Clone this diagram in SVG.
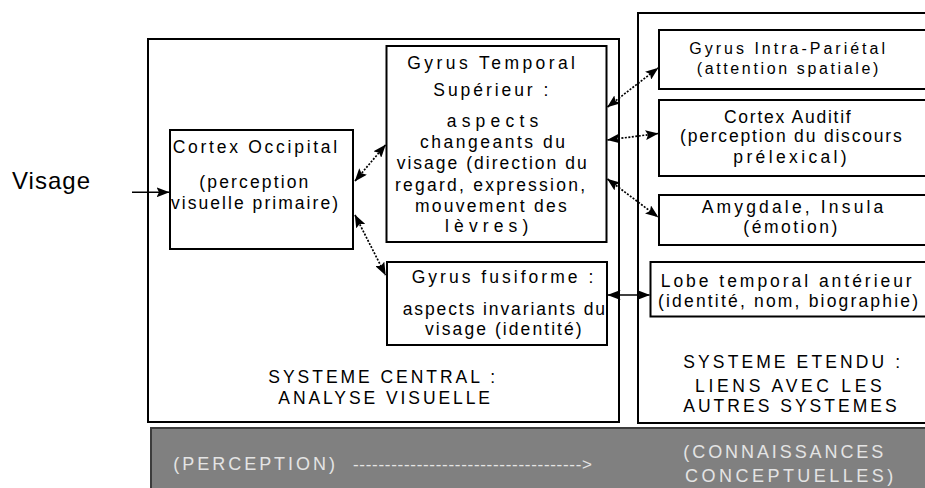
<svg xmlns="http://www.w3.org/2000/svg" width="925" height="488" viewBox="0 0 925 488">
<defs>
<marker id="ah" markerUnits="userSpaceOnUse" viewBox="0 0 13 10" markerWidth="13" markerHeight="10" refX="12.5" refY="5" orient="auto-start-reverse">
<path d="M0,0 L13,5 L0,10 L2.5,5 z" fill="#000"/>
</marker>
<style>
.box{fill:#fff;stroke:#000;stroke-width:2}
.t{font-family:"Liberation Sans",Arial,sans-serif;font-size:17.5px;fill:#000}
.sm{font-size:16px}
.v{font-family:"Liberation Sans",Arial,sans-serif;font-size:24px;fill:#000}
.b{font-family:"Liberation Sans",Arial,sans-serif;font-size:18px;fill:#e4e4e4}
.c{fill:none;stroke:#000;stroke-width:1.7;stroke-dasharray:2 1.5;marker-start:url(#ah);marker-end:url(#ah)}
.s{fill:none;stroke:#000;stroke-width:1.5;marker-end:url(#ah)}
.sd{fill:none;stroke:#000;stroke-width:1.7;marker-start:url(#ah);marker-end:url(#ah)}
</style>
</defs>
<rect width="925" height="488" fill="#fff"/>

<g id="systeme-central">
<rect class="box" x="148" y="39" width="471" height="383"/>
<text class="t" x="268.3" y="383.3" textLength="226.7" lengthAdjust="spacing">SYSTEME CENTRAL :</text>
<text class="t" x="278.3" y="404.3" textLength="211.7" lengthAdjust="spacing">ANALYSE VISUELLE</text>
</g>

<g id="systeme-etendu">
<rect class="box" x="638" y="13" width="300" height="410"/>
<text class="t" x="683.3" y="368.3" textLength="216.7" lengthAdjust="spacing">SYSTEME ETENDU :</text>
<text class="t" x="695" y="391.7" textLength="186.7" lengthAdjust="spacing">LIENS AVEC LES</text>
<text class="t" x="683.3" y="411.7" textLength="213.3" lengthAdjust="spacing">AUTRES SYSTEMES</text>
</g>

<g id="visage">
<text class="v" x="12" y="189" textLength="78" lengthAdjust="spacing">Visage</text>
</g>

<g id="cortex-occipital">
<rect class="box" x="170" y="130" width="183" height="119"/>
<text class="t" x="172.7" y="153.3" textLength="164.5" lengthAdjust="spacing">Cortex Occipital</text>
<text class="t" x="199.3" y="187.5" textLength="109" lengthAdjust="spacing">(perception</text>
<text class="t" x="171" y="209" textLength="167" lengthAdjust="spacing">visuelle primaire)</text>
</g>

<g id="gyrus-temporal">
<rect class="box" x="386.5" y="46" width="220" height="196"/>
<text class="t" x="407.3" y="68.7" textLength="167.7" lengthAdjust="spacing">Gyrus Temporal</text>
<text class="t" x="433.3" y="95.5" textLength="115" lengthAdjust="spacing">Supérieur :</text>
<text class="t" x="446.7" y="126.7" textLength="91.6" lengthAdjust="spacing">aspects</text>
<text class="t" x="420" y="147.7" textLength="145" lengthAdjust="spacing">changeants du</text>
<text class="t" x="396.7" y="169.3" textLength="190" lengthAdjust="spacing">visage (direction du</text>
<text class="t" x="395" y="191" textLength="190" lengthAdjust="spacing">regard, expression,</text>
<text class="t" x="415" y="212" textLength="151.7" lengthAdjust="spacing">mouvement des</text>
<text class="t" x="445" y="231.5" textLength="83.3" lengthAdjust="spacing">lèvres)</text>
</g>

<g id="gyrus-fusiforme">
<rect class="box" x="387" y="262" width="220" height="83"/>
<text class="t" x="411.7" y="283.3" textLength="181.6" lengthAdjust="spacing">Gyrus fusiforme :</text>
<text class="t" x="402.7" y="315" textLength="202.3" lengthAdjust="spacing">aspects invariants du</text>
<text class="t" x="425" y="335" textLength="156.7" lengthAdjust="spacing">visage (identité)</text>
</g>

<g id="gyrus-intra-parietal">
<rect class="box" x="659" y="30" width="280" height="59"/>
<text class="t sm" x="689.3" y="54" textLength="195.7" lengthAdjust="spacing">Gyrus Intra-Pariétal</text>
<text class="t sm" x="696.7" y="74" textLength="181.6" lengthAdjust="spacing">(attention spatiale)</text>
</g>

<g id="cortex-auditif">
<rect class="box" x="659" y="100" width="280" height="76"/>
<text class="t" x="724" y="123.3" textLength="126.7" lengthAdjust="spacing">Cortex Auditif</text>
<text class="t" x="680" y="141.7" textLength="221.7" lengthAdjust="spacing">(perception du discours</text>
<text class="t" x="733.3" y="163" textLength="113.4" lengthAdjust="spacing">prélexical)</text>
</g>

<g id="amygdale-insula">
<rect class="box" x="659" y="195" width="280" height="50"/>
<text class="t" x="701.7" y="212.5" textLength="181.6" lengthAdjust="spacing">Amygdale, Insula</text>
<text class="t" x="743.3" y="233.3" textLength="94" lengthAdjust="spacing">(émotion)</text>
</g>

<g id="lobe-temporal">
<rect class="box" x="650.5" y="262" width="290" height="54.5"/>
<text class="t" x="660.7" y="287" textLength="251" lengthAdjust="spacing">Lobe temporal antérieur</text>
<text class="t" x="658" y="307" textLength="260" lengthAdjust="spacing">(identité, nom, biographie)</text>
</g>

<g id="bandeau">
<rect x="151" y="428" width="780" height="62" fill="#808080" stroke="#3c3c3c" stroke-width="2"/>
<text class="b" x="173.3" y="470" textLength="161.7" lengthAdjust="spacing">(PERCEPTION)</text>
<text class="b" x="353" y="470" textLength="239" lengthAdjust="spacing" style="font-size:17px">------------------------------------&gt;</text>
<text class="b" x="683.3" y="458" textLength="200" lengthAdjust="spacing">(CONNAISSANCES</text>
<text class="b" x="685" y="481.7" textLength="208.3" lengthAdjust="spacing">CONCEPTUELLES)</text>
</g>

<g id="connectors">
<line class="s" x1="132" y1="192.3" x2="169" y2="192.3"/>
<line class="c" x1="355" y1="181" x2="385.5" y2="145"/>
<line class="c" x1="355" y1="215" x2="385.5" y2="275"/>
<line class="c" x1="607.5" y1="107" x2="658" y2="68"/>
<line class="c" x1="607.5" y1="140" x2="658" y2="133.5"/>
<line class="c" x1="607.5" y1="179" x2="658" y2="217"/>
<line class="sd" x1="608" y1="295" x2="649.5" y2="295"/>
</g>
</svg>
